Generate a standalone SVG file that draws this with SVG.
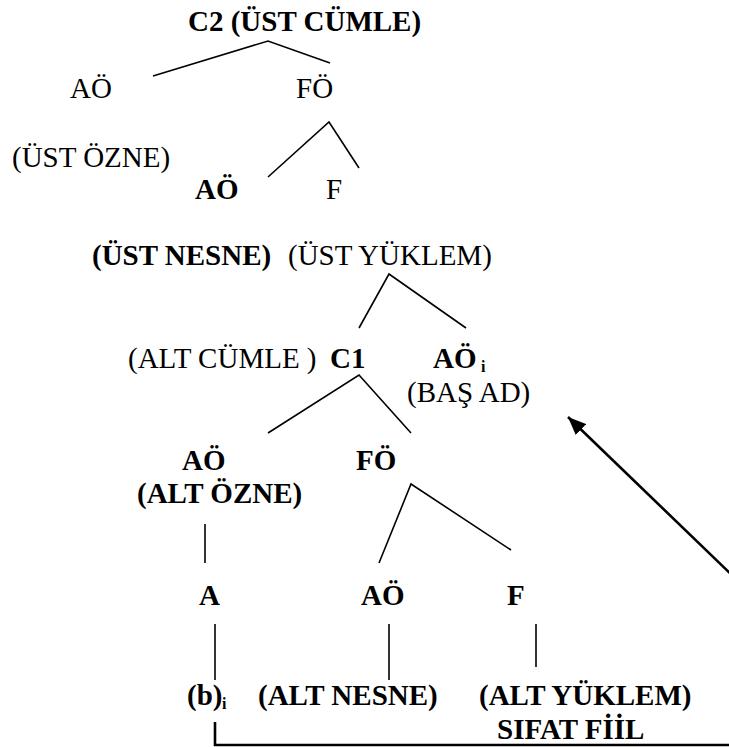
<svg xmlns="http://www.w3.org/2000/svg" width="729" height="747" viewBox="0 0 729 747">
<style>
.t{font-family:"Liberation Serif","Times New Roman",Times,"DejaVu Serif",serif;font-size:29px;fill:#000}
.b{font-weight:bold}
.sub{font-size:16px;font-weight:bold}
.ln{fill:none;stroke:#000;stroke-width:1.6;stroke-linecap:butt;stroke-linejoin:miter}
.thick{fill:none;stroke:#000;stroke-width:2.6}
</style>
<defs>
<marker id="ah" markerUnits="userSpaceOnUse" markerWidth="19" markerHeight="15" refX="18" refY="7.5" orient="auto">
<path d="M0,0 L18,7.5 L0,15 Z" fill="#000"/>
</marker>
</defs>
<rect width="729" height="747" fill="#fff"/>
<g id="connectors">
<polyline class="ln" points="153,76 268,41 330,63"/>
<polyline class="ln" points="268,177 329,122 359,168"/>
<polyline class="ln" points="359,328 389,274 466,328"/>
<polyline class="ln" points="268,433 359,375 411,433"/>
<line class="ln" x1="205" y1="524" x2="205" y2="563"/>
<polyline class="ln" points="379,563 411,484 511,550"/>
<line class="ln" x1="215" y1="624" x2="215" y2="680"/>
<line class="ln" x1="389" y1="624" x2="389" y2="680"/>
<line class="ln" x1="536" y1="624" x2="536" y2="667"/>
<polyline class="thick" points="215,722 215,745 735,745"/>
<line class="thick" x1="736" y1="579" x2="568" y2="417" marker-end="url(#ah)"/>
</g>
<g class="t" font-family="Liberation Serif, Times New Roman, serif">
<g id="n_c2"><text class="b" x="188" y="31">C2 (ÜST CÜMLE)</text></g>
<g id="n_ao_ust"><text x="70" y="98">AÖ</text></g>
<g id="n_fo_ust"><text x="296" y="98">FÖ</text></g>
<g id="n_ust_ozne"><text x="12" y="167">(ÜST ÖZNE)</text></g>
<g id="n_ao_nesne"><text class="b" x="195" y="199">AÖ</text></g>
<g id="n_f_ust"><text x="326" y="199">F</text></g>
<g id="n_ust_nesne"><text class="b" x="92" y="265">(ÜST NESNE)</text></g>
<g id="n_ust_yuklem"><text x="288" y="265">(ÜST YÜKLEM)</text></g>
<g id="n_c1"><text x="128" y="368">(ALT CÜMLE )</text><text class="b" x="330" y="368">C1</text></g>
<g id="n_ao_i"><text class="b" x="433" y="368">AÖ</text><text class="sub" x="481" y="372">i</text></g>
<g id="n_bas_ad"><text x="407" y="402">(BAŞ AD)</text></g>
<g id="n_alt_ozne"><text class="b" x="182" y="470">AÖ</text><text class="b" x="137" y="503">(ALT ÖZNE)</text></g>
<g id="n_fo_alt"><text class="b" x="356" y="470">FÖ</text></g>
<g id="n_a"><text class="b" x="199" y="605">A</text></g>
<g id="n_ao_alt"><text class="b" x="361" y="605">AÖ</text></g>
<g id="n_f_alt"><text class="b" x="507" y="605">F</text></g>
<g id="n_b"><text class="b" x="187" y="705">(b)</text><text class="sub" x="222" y="709">i</text></g>
<g id="n_alt_nesne"><text class="b" x="258" y="705">(ALT NESNE)</text></g>
<g id="n_alt_yuklem"><text class="b" x="479" y="705">(ALT YÜKLEM)</text><text class="b" x="497" y="739">SIFAT FİİL</text></g>
</g>
</svg>
